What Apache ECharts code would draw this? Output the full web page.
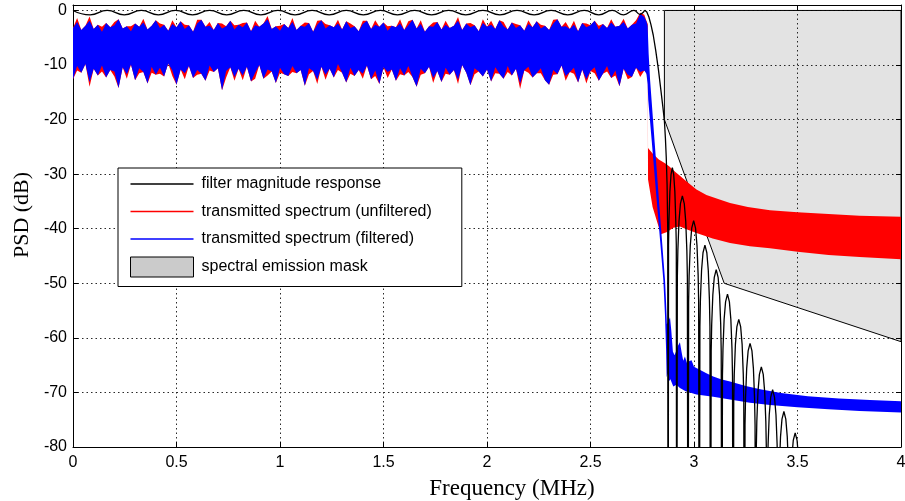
<!DOCTYPE html>
<html>
<head>
<meta charset="utf-8">
<script src="https://cdn.jsdelivr.net/npm/echarts@6/dist/echarts.min.js"></script>
<style>
  html, body { margin: 0; padding: 0; background: #ffffff; }
  #chart { width: 905px; height: 501px; }
</style>
</head>
<body>
<div id="chart"></div>
<script>
// ---- axis ticks ----
const freqTicks = [0, 0.5, 1, 1.5, 2, 2.5, 3, 3.5, 4];
const psdTicks = [-80, -70, -60, -50, -40, -30, -20, -10, 0];

// ---- passband noise envelopes (MHz, dB) ----
const noiseFreq = [
  0,0.02,0.04,0.06,0.08,0.1,0.12,0.14,0.16,0.18,
  0.2,0.22,0.24,0.26,0.28,0.3,0.32,0.34,0.36,0.38,
  0.4,0.42,0.44,0.46,0.48,0.5,0.52,0.54,0.56,0.58,
  0.6,0.62,0.64,0.66,0.68,0.7,0.72,0.74,0.76,0.78,
  0.8,0.82,0.84,0.86,0.88,0.9,0.92,0.94,0.96,0.98,
  1,1.02,1.04,1.06,1.08,1.1,1.12,1.14,1.16,1.18,
  1.2,1.22,1.24,1.26,1.28,1.3,1.32,1.34,1.36,1.38,
  1.4,1.42,1.44,1.46,1.48,1.5,1.52,1.54,1.56,1.58,
  1.6,1.62,1.64,1.66,1.68,1.7,1.72,1.74,1.76,1.78,
  1.8,1.82,1.84,1.86,1.88,1.9,1.92,1.94,1.96,1.98,
  2,2.02,2.04,2.06,2.08,2.1,2.12,2.14,2.16,2.18,
  2.2,2.22,2.24,2.26,2.28,2.3,2.32,2.34,2.36,2.38,
  2.4,2.42,2.44,2.46,2.48,2.5,2.52,2.54,2.56,2.58,
  2.6,2.62,2.64,2.66,2.68,2.7,2.72,2.74,2.76
];

// filtered spectrum: peak / trough envelope across the passband
const filteredHigh = [
  -3.2,-2.1,-3.6,-2.8,-1.9,-3.4,-2.6,-3.9,-2.3,-3.1,
  -2.7,-1.6,-3.3,-2.9,-3.8,-2.4,-3.0,-2.2,-3.5,-2.8,
  -1.8,-3.2,-2.6,-3.7,-2.5,-3.1,-2.0,-3.4,-2.7,-3.9,
  -2.4,-1.7,-3.0,-2.8,-3.6,-2.3,-3.3,-2.9,-1.9,-3.5,
  -2.6,-3.1,-2.2,-3.8,-2.7,-3.0,-2.4,-1.6,-3.4,-2.9,
  -3.7,-2.5,-3.2,-2.1,-3.6,-2.8,-3.0,-2.3,-3.9,-2.6,
  -1.8,-3.3,-2.7,-3.1,-2.4,-3.5,-2.0,-3.2,-2.9,-3.8,
  -2.5,-1.9,-3.4,-2.6,-3.0,-2.2,-3.7,-2.8,-3.1,-2.4,
  -3.6,-2.7,-1.7,-3.3,-2.5,-3.9,-2.9,-3.0,-2.1,-3.5,
  -2.6,-3.2,-2.8,-1.9,-3.6,-2.4,-3.1,-2.7,-3.8,-2.3,
  -3.0,-2.6,-3.4,-1.8,-2.9,-3.5,-2.2,-3.2,-2.7,-3.7,
  -2.5,-3.1,-2.0,-3.3,-2.8,-3.6,-2.4,-1.6,-3.0,-2.9,
  -3.4,-2.6,-3.8,-2.3,-3.1,-2.7,-1.9,-3.5,-2.5,-3.2,
  -2.2,-3.0,-2.8,-2.1,-3.3,-2.6,-2.4,-0.6,-1.2
];
const filteredLow = [
  -12.6,-10.2,-11.4,-9.8,-13.1,-10.7,-11.9,-10.1,-12.3,-10.9,
  -11.2,-14.2,-10.4,-11.7,-9.9,-12.8,-10.6,-11.3,-13.4,-10.3,
  -11.8,-10.5,-12.1,-9.7,-11.0,-13.6,-10.8,-11.5,-10.2,-12.4,
  -10.9,-11.6,-12.9,-10.1,-11.3,-10.6,-14.6,-11.1,-10.4,-12.2,
  -10.7,-11.9,-10.3,-13.0,-11.4,-10.0,-12.5,-10.8,-11.2,-13.3,
  -10.5,-11.7,-12.0,-10.2,-11.5,-10.9,-13.8,-10.6,-11.1,-12.7,
  -10.3,-11.8,-10.7,-12.3,-9.8,-11.4,-13.2,-10.5,-12.0,-10.9,
  -11.6,-10.1,-12.6,-11.0,-13.5,-10.4,-11.3,-10.8,-12.9,-10.6,
  -11.9,-10.2,-12.2,-14.0,-10.7,-11.5,-10.3,-12.4,-11.1,-13.1,
  -10.5,-11.8,-10.9,-12.7,-10.0,-11.4,-13.7,-10.6,-11.2,-12.1,
  -10.8,-13.0,-10.4,-11.6,-12.5,-10.2,-11.9,-10.7,-13.4,-11.0,
  -10.3,-12.3,-11.5,-10.6,-12.8,-13.6,-10.9,-11.7,-10.1,-12.0,
  -11.3,-10.5,-13.2,-10.8,-12.6,-11.1,-10.4,-12.9,-11.6,-10.2,
  -12.4,-11.0,-13.9,-10.7,-11.8,-12.2,-10.5,-11.3,-11.0
];

// unfiltered spectrum: peak / trough envelope across the passband
const unfilteredHigh = [
  -3.2,-1.4,-3.6,-2.8,-1.1,-3.4,-2.6,-3.0,-2.3,-3.1,
  -2.1,-1.6,-3.3,-2.9,-2.9,-2.4,-3.0,-1.5,-3.5,-2.8,
  -1.8,-2.4,-2.6,-3.7,-1.8,-3.1,-2.0,-2.6,-2.7,-3.9,
  -1.7,-1.7,-3.0,-2.1,-3.6,-2.3,-2.4,-2.9,-1.9,-2.7,
  -2.6,-2.3,-2.2,-3.8,-1.9,-3.0,-2.4,-1.0,-3.4,-2.9,
  -2.8,-2.5,-3.2,-1.4,-3.6,-2.8,-2.2,-2.3,-3.9,-1.9,
  -1.8,-2.5,-2.7,-3.1,-1.7,-3.5,-2.0,-2.4,-2.9,-3.8,
  -1.9,-1.9,-3.4,-1.8,-3.0,-2.2,-2.9,-2.8,-3.1,-1.6,
  -3.6,-2.0,-1.7,-3.3,-1.8,-3.9,-2.9,-2.2,-2.1,-3.5,
  -1.9,-3.2,-2.8,-1.2,-3.6,-2.4,-2.3,-2.7,-3.8,-1.6,
  -3.0,-1.9,-3.4,-1.8,-2.1,-3.5,-2.2,-2.5,-2.7,-3.7,
  -1.8,-3.1,-2.0,-2.6,-2.8,-3.6,-1.7,-1.6,-3.0,-2.1,
  -3.4,-1.9,-3.8,-2.3,-2.4,-2.7,-1.9,-2.8,-2.5,-3.2,
  -1.6,-3.0,-2.8,-1.5,-3.3,-2.6,-1.8,-0.4,-0.8
];
const unfilteredLow = [
  -12.6,-11.0,-11.4,-9.8,-14.0,-10.7,-11.9,-11.2,-12.3,-10.9,
  -12.1,-14.2,-10.4,-12.5,-9.9,-12.8,-11.5,-11.3,-13.4,-11.4,
  -11.8,-11.6,-12.1,-9.7,-12.0,-13.6,-10.8,-12.6,-10.2,-12.4,
  -11.8,-11.6,-12.9,-11.0,-11.3,-10.6,-14.6,-12.3,-10.4,-12.9,
  -10.7,-12.8,-10.3,-13.0,-12.5,-10.0,-12.5,-11.9,-11.2,-13.3,
  -11.4,-11.7,-12.0,-11.3,-11.5,-10.9,-13.8,-11.7,-11.1,-13.5,
  -10.3,-12.7,-10.7,-12.3,-10.9,-11.4,-13.2,-11.6,-12.0,-10.9,
  -12.5,-10.1,-12.6,-12.0,-13.5,-10.4,-12.4,-10.8,-12.9,-11.7,
  -11.9,-11.3,-12.2,-14.0,-11.8,-11.5,-10.3,-13.3,-11.1,-13.1,
  -11.6,-11.8,-10.9,-13.5,-10.0,-11.4,-13.7,-11.7,-11.2,-12.1,
  -10.8,-13.0,-11.5,-11.6,-12.5,-11.3,-11.9,-10.7,-14.4,-11.0,
  -11.4,-12.3,-11.5,-11.5,-12.8,-13.6,-11.8,-11.7,-10.1,-12.9,
  -11.3,-11.6,-13.2,-10.8,-13.4,-11.1,-11.5,-12.9,-11.6,-11.2,
  -12.4,-11.9,-13.9,-10.7,-12.6,-12.2,-10.5,-12.2,-11.0
];

// ---- band-edge roll-off and stopband envelopes, [MHz, dB] ----
const filteredHighTail = [
  [2.77,-2.0],[2.776,-2.8],[2.781,-8],[2.788,-12.8],[2.795,-16.4],[2.81,-24.2],
  [2.83,-34.4],[2.85,-44.5],[2.86,-49.4],[2.865,-53.5],[2.869,-57.5],[2.876,-57],
  [2.884,-56.2],[2.89,-58.5],[2.898,-62.5],[2.906,-63.2],[2.914,-62.4],[2.922,-61.5],
  [2.932,-60.8],[2.94,-62.6],[2.948,-64.2],[2.956,-63.4],[2.966,-64.6],[2.976,-64.3],
  [2.988,-64.1],[3.0,-65.3],[3.03,-65.9],[3.06,-66.5],[3.093,-67.1],[3.13,-67.6],
  [3.174,-68.0],[3.25,-68.8],[3.32,-69.4],[3.42,-70.1],[3.55,-70.7],[3.7,-71.1],
  [3.85,-71.4],[4.0,-71.6]
];
const filteredLowTail = [
  [2.77,-11.6],[2.776,-13.5],[2.779,-16.4],[2.796,-24],[2.818,-34],[2.838,-43],
  [2.852,-49.5],[2.86,-56],[2.865,-62],[2.868,-67.2],[2.873,-66.5],[2.878,-68],
  [2.886,-67.6],[2.9,-68.9],[2.915,-68.6],[2.932,-69.2],[2.96,-69.8],[3.012,-70.4],
  [3.093,-70.8],[3.174,-71.3],[3.27,-71.9],[3.367,-72.3],[3.5,-72.7],[3.65,-73.1],
  [3.8,-73.4],[4.0,-73.7]
];
const unfilteredHighTail = [
  [2.77,-1.9],[2.7765,-2.5],[2.778,-25.2],[2.80,-26.2],[2.83,-27.3],[2.86,-28.0],
  [2.881,-28.6],[2.91,-29.6],[2.932,-30.3],[2.96,-31.2],[3.012,-32.8],[3.06,-33.8],
  [3.12,-34.6],[3.174,-35.3],[3.26,-36.0],[3.367,-36.6],[3.5,-37.0],[3.65,-37.3],
  [3.8,-37.6],[4.0,-37.8]
];
const unfilteredLowTail = [
  [2.77,-11.3],[2.7765,-12.5],[2.778,-31],[2.80,-36],[2.84,-41],[2.87,-40.6],
  [2.9,-39.8],[2.932,-39.6],[2.97,-40.2],[3.012,-40.8],[3.09,-41.8],[3.174,-42.6],
  [3.27,-43.2],[3.367,-43.6],[3.5,-44.2],[3.65,-44.8],[3.8,-45.2],[4.0,-45.6]
];

// ---- filter magnitude response, [MHz, dB] ----
const filterPassband = [
  [0,0],[0.0825,-0.8],[0.165,0],[0.2475,-0.8],[0.33,0],[0.4125,-0.8],[0.495,0],
  [0.5775,-0.8],[0.66,0],[0.7425,-0.8],[0.825,0],[0.9075,-0.8],[0.99,0],[1.0725,-0.8],
  [1.155,0],[1.2375,-0.8],[1.32,0],[1.4025,-0.8],[1.485,0],[1.5675,-0.8],[1.65,0],
  [1.7325,-0.8],[1.815,0],[1.8975,-0.8],[1.98,0],[2.0625,-0.8],[2.145,0],[2.2275,-0.8],
  [2.31,0],[2.39,-0.8],[2.47,0],[2.54,-0.8],[2.605,0],[2.66,-0.8],[2.71,0],
  [2.738,-0.7],[2.762,0.05]
];
const filterStopband = [
  [2.762,0.05],[2.772,-0.3],[2.782,-1.2],[2.792,-2.6],[2.803,-4.5],[2.815,-7.3],
  [2.828,-10.8],[2.84,-14.6],[2.85,-17.8],[2.857,-20.2],[2.862,-23.5],[2.866,-27],
  [2.87,-32],[2.873,-40],[2.875,-130],
  [2.877,-43],[2.879,-38.5],[2.8835,-33.2],[2.889,-30.1],[2.8955,-28.8],[2.902,-30.1],
  [2.9075,-33.2],[2.912,-38.5],[2.9145,-43],[2.9165,-130],
  [2.9195,-49],[2.922,-44],[2.9275,-38.6],[2.9345,-35.4],[2.9438,-34],[2.953,-35.4],
  [2.96,-38.6],[2.9655,-44],[2.968,-49],[2.971,-130],
  [2.974,-53.5],[2.9765,-48.5],[2.982,-43.1],[2.989,-39.9],[2.9983,-38.5],[3.0075,-39.9],
  [3.0145,-43.1],[3.02,-48.5],[3.0225,-53.5],[3.0255,-130],
  [3.0285,-58],[3.031,-53],[3.0365,-47.6],[3.0435,-44.4],[3.0528,-43],[3.062,-44.4],
  [3.069,-47.6],[3.0745,-53],[3.077,-58],[3.08,-130],
  [3.083,-62.5],[3.0855,-57.5],[3.091,-52.1],[3.098,-48.9],[3.1073,-47.5],[3.1165,-48.9],
  [3.1235,-52.1],[3.129,-57.5],[3.1315,-62.5],[3.1345,-130],
  [3.1375,-67],[3.14,-62],[3.1455,-56.6],[3.1525,-53.4],[3.1618,-52],[3.171,-53.4],
  [3.178,-56.6],[3.1835,-62],[3.186,-67],[3.189,-130],
  [3.192,-71.6],[3.1945,-66.6],[3.2,-61.2],[3.207,-58],[3.2163,-56.6],[3.2255,-58],
  [3.2325,-61.2],[3.238,-66.6],[3.2405,-71.6],[3.2435,-130],
  [3.2465,-76],[3.249,-71],[3.2545,-65.6],[3.2615,-62.4],[3.2708,-61],[3.28,-62.4],
  [3.287,-65.6],[3.2925,-71],[3.295,-76],[3.298,-130],
  [3.301,-80.3],[3.3035,-75.3],[3.309,-69.9],[3.316,-66.7],[3.3253,-65.3],[3.3345,-66.7],
  [3.3415,-69.9],[3.347,-75.3],[3.3495,-80.3],[3.3525,-130],
  [3.3555,-84.5],[3.358,-79.5],[3.3635,-74.1],[3.3705,-70.9],[3.3798,-69.5],[3.389,-70.9],
  [3.396,-74.1],[3.4015,-79.5],[3.404,-84.5],[3.407,-130],
  [3.41,-88.5],[3.4125,-83.5],[3.418,-78.1],[3.425,-74.9],[3.4343,-73.5],[3.4435,-74.9],
  [3.4505,-78.1],[3.456,-83.5],[3.4585,-88.5],[3.4615,-130],
  [3.4645,-92.4],[3.467,-87.4],[3.4725,-82],[3.4795,-78.8],[3.4888,-77.4],[3.498,-78.8],
  [3.505,-82],[3.5105,-87.4],[3.513,-92.4],[3.516,-130],
  [4.0,-130]
];

// ---- spectral emission mask outline, [MHz, dB] ----
const maskVertices = [[2.857,0],[4,0],[4,-60.7],[3.146,-50],[2.857,-20]];

// ---- series names ----
const NAME_FILTER = 'filter magnitude response';
const NAME_UNFILT = 'transmitted spectrum (unfiltered)';
const NAME_FILT = 'transmitted spectrum (filtered)';
const NAME_MASK = 'spectral emission mask';

// closed outline of a noise band: upper envelope forward, lower envelope back
function bandOutline(freq, high, low, highTail, lowTail) {
  const upper = freq.map((f, i) => [f, high[i]]).concat(highTail);
  const lower = freq.map((f, i) => [f, low[i]]).concat(lowTail);
  return upper.concat(lower.slice().reverse());
}

function polygonSeries(name, pts, fill, stroke) {
  return {
    type: 'custom',
    name: name,
    data: pts,
    encode: { x: 0, y: 1 },
    silent: true,
    animation: false,
    renderItem: function (params, api) {
      if (params.dataIndex !== 0) return null;
      return {
        type: 'polygon',
        shape: { points: pts.map(p => api.coord(p)) },
        style: {
          fill: fill,
          stroke: stroke || null,
          lineWidth: stroke ? 1 : 0
        }
      };
    }
  };
}

const unfilteredBand = bandOutline(noiseFreq, unfilteredHigh, unfilteredLow, unfilteredHighTail, unfilteredLowTail);
const filteredBand = bandOutline(noiseFreq, filteredHigh, filteredLow, filteredHighTail, filteredLowTail);

const LINE_ICON = 'path://M0,0M0,20M0,9.2L63,9.2L63,10.8L0,10.8Z';
const gridDots = { color: '#2a2a2a', width: 1, type: [1.5, 3] };
const tickFont = { fontFamily: 'Liberation Sans, Arial, sans-serif', fontSize: 16, color: '#000' };

const chart = echarts.init(document.getElementById('chart'), null, { renderer: 'canvas' });
chart.setOption({
  animation: false,
  backgroundColor: '#ffffff',
  grid: { left: 73, right: 4, top: 5, bottom: 54, containLabel: false, outerBoundsMode: 'none' },
  legend: {
    orient: 'vertical',
    left: 118,
    top: 168,
    selectedMode: false,
    itemWidth: 63,
    itemHeight: 20,
    itemGap: 7.5,
    padding: [6, 30, 9, 12],
    backgroundColor: '#ffffff',
    borderColor: '#000000',
    borderWidth: 1,
    borderRadius: 0,
    textStyle: { fontFamily: 'Liberation Sans, Arial, sans-serif', fontSize: 16, color: '#000', padding: [0, 0, 0, 3] },
    data: [
      { name: NAME_FILTER, icon: LINE_ICON, itemStyle: { color: '#000000', borderWidth: 0 } },
      { name: NAME_UNFILT, icon: LINE_ICON, itemStyle: { color: '#ff0000', borderWidth: 0 } },
      { name: NAME_FILT, icon: LINE_ICON, itemStyle: { color: '#0000ff', borderWidth: 0 } },
      { name: NAME_MASK, icon: 'rect', itemStyle: { color: '#cbcbcb', borderColor: '#000000', borderWidth: 1 } }
    ]
  },
  xAxis: [
    {
      type: 'value', min: freqTicks[0], max: freqTicks[freqTicks.length - 1], interval: 0.5,
      position: 'bottom',
      name: 'Frequency (MHz)', nameLocation: 'middle', nameGap: 30,
      nameTextStyle: { fontFamily: 'Liberation Serif, serif', fontSize: 23, color: '#000', padding: [0, 0, 0, 50] },
      axisLine: { show: true, onZero: false, lineStyle: { color: '#000', width: 1 } },
      axisTick: { show: true, inside: true, length: 5, lineStyle: { color: '#000' } },
      axisLabel: Object.assign({ margin: 8, formatter: v => String(v) }, tickFont),
      splitLine: { show: true, lineStyle: gridDots }
    },
    {
      type: 'value', min: freqTicks[0], max: freqTicks[freqTicks.length - 1], interval: 0.5,
      position: 'top',
      axisLine: { show: true, onZero: false, lineStyle: { color: '#000', width: 1 } },
      axisTick: { show: true, inside: true, length: 5, lineStyle: { color: '#000' } },
      axisLabel: { show: false },
      splitLine: { show: false }
    }
  ],
  yAxis: [
    {
      type: 'value', min: psdTicks[0], max: 1, interval: 10,
      position: 'left',
      name: 'PSD (dB)', nameLocation: 'middle', nameGap: 38,
      nameTextStyle: { fontFamily: 'Liberation Serif, serif', fontSize: 22, color: '#000', padding: [0, 0, 0, 22] },
      axisLine: { show: true, onZero: false, lineStyle: { color: '#000', width: 1 } },
      axisTick: { show: true, inside: true, length: 5, lineStyle: { color: '#000' } },
      axisLabel: Object.assign({
        margin: 6,
        formatter: v => (psdTicks.indexOf(v) >= 0 ? String(v) : '')
      }, tickFont),
      splitLine: { show: true, lineStyle: gridDots }
    },
    {
      type: 'value', min: psdTicks[0], max: 1, interval: 10,
      position: 'right',
      axisLine: { show: true, onZero: false, lineStyle: { color: '#000', width: 1 } },
      axisTick: { show: true, inside: true, length: 5, lineStyle: { color: '#000' } },
      axisLabel: { show: false },
      splitLine: { show: false }
    }
  ],
  series: [
    polygonSeries(NAME_MASK, maskVertices, 'rgba(0,0,0,0.11)', '#000000'),
    polygonSeries(NAME_UNFILT, unfilteredBand, '#ff0000', null),
    polygonSeries(NAME_FILT, filteredBand, '#0000ff', null),
    {
      type: 'line', name: NAME_FILTER, data: filterPassband, smooth: 0.5,
      showSymbol: false, symbol: 'none', clip: true, silent: true,
      lineStyle: { color: '#000', width: 1.3 }, itemStyle: { color: '#000' }
    },
    {
      type: 'line', name: NAME_FILTER, data: filterStopband, smooth: false,
      showSymbol: false, symbol: 'none', clip: true, silent: true,
      lineStyle: { color: '#000', width: 1.3 }, itemStyle: { color: '#000' }
    }
  ]
});
</script>
</body>
</html>
